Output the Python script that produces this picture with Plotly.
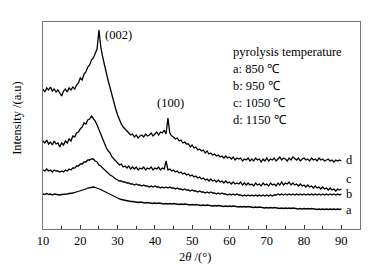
import plotly.graph_objects as go

two_theta = [10 + 0.5 * i for i in range(161)]

d_1150 = [140,137,141,139,142,138,140,137,139,136,133,138,140,137,141,139,142,140,144,146,
          151,149,155,157,162,164,169,171,176,180,199,182,172,163,156,148,141,133,126,120,
          114,109,105,102,100,97,96,94,95,92,94,91,93,94,92,95,93,94,96,93,
          95,97,94,97,96,99,95,111,96,93,92,90,91,88,89,86,87,85,85,82,
          84,81,82,79,80,78,79,76,78,75,76,74,75,73,74,72,73,71,73,71,
          72,70,72,69,71,70,71,68,70,69,71,68,70,68,71,69,70,67,70,68,
          71,68,70,69,71,68,70,72,69,71,70,68,71,69,72,70,69,71,68,70,
          71,69,70,68,71,69,70,68,71,69,70,68,69,70,68,69,67,69,68,69,68]

c_1050 = [88,86,89,85,87,84,88,85,86,82,86,84,88,86,90,88,93,92,96,97,
          100,102,106,105,109,110,113,111,108,104,99,95,90,86,81,78,76,72,70,67,
          66,64,65,62,63,61,63,60,62,60,62,59,61,60,62,59,61,60,62,59,
          61,60,62,59,61,60,68,59,60,58,59,57,58,56,57,55,56,54,55,53,
          54,52,53,51,52,50,51,49,50,48,50,48,49,47,49,47,48,46,48,46,
          47,45,47,45,46,45,47,44,46,44,46,44,45,43,46,44,45,43,46,44,
          45,43,46,44,45,43,46,44,47,44,46,45,47,44,46,44,45,43,45,43,
          44,42,44,42,43,41,43,41,42,40,42,40,41,39,41,39,40,38,40,39,40]

b_950 = [59,58,60,58,59,57,59,58,58,57,58,57,59,58,60,59,61,61,63,63,
         65,65,67,67,69,69,70,70,68,67,64,63,61,59,57,56,54,53,51,50,
         49,48,48,47,47,46,46,45,45,44,45,44,44,43,44,43,43,42,43,42,
         43,42,42,41,42,41,42,41,42,41,41,40,41,40,40,39,40,39,39,38,
         39,38,38,37,38,37,37,36,37,36,37,36,36,35,36,35,36,35,35,34,
         35,34,35,34,35,34,34,33,34,33,34,33,34,33,34,33,34,33,34,33,
         34,33,34,33,34,34,35,34,35,34,35,34,35,34,35,34,35,34,35,34,
         35,34,35,34,35,34,35,34,35,34,35,34,35,34,35,34,35,34,35,34,35]

a_850 = [35,34.5,35.5,34.5,35,34,35,34.5,34.5,34,34.5,34.5,35,35,35.5,35.5,36,36.5,37,37.5,
         38,38.5,39.5,40,41,41.5,42,42,41.5,41,40,39.5,38.5,37.5,36.5,35.5,34.5,33.5,32.5,31.5,
         31,30,29.5,29,28.5,28,28,27.5,27.5,27,27,26.5,27,26.5,26.5,26,26.5,26,26,25.5,
         26,25.5,26,25.5,25.5,25,25.5,25,25.5,25,25.5,25,25,24.5,25,24.5,25,24.5,24.5,24,
         24.5,24,24.5,24,24,23.5,24,23.5,24,23.5,23.5,23,23.5,23,23.5,23,23,22.5,23,22.5,
         23,22.5,23,22.5,22.5,22,22.5,22,22.5,22,22.5,22,22,21.5,22,21.5,22,21.5,21.5,21,
         21.5,21,21.5,21,21.5,21,21,20.5,21,20.5,21,20.5,21,20.5,21,20.5,20.5,20,20.5,20,
         20.5,20,20.5,20,20.5,20,20,19.5,20,19.5,20,19.5,20,19.5,20,19.5,20,19.5,20,19.5,20]

for s in (d_1150, c_1050, b_950, a_850):
    assert len(s) == len(two_theta), len(s)

series = [("a", a_850), ("b", b_950), ("c", c_1050), ("d", d_1150)]
legend_lines = ["pyrolysis temperature", "a: 850 ℃", "b: 950 ℃", "c: 1050 ℃", "d: 1150 ℃"]
x_ticks = [10, 20, 30, 40, 50, 60, 70, 80, 90]

FONT = "Liberation Serif"

fig = go.Figure()
for name, vals in series:
    fig.add_trace(go.Scatter(x=two_theta, y=vals, mode="lines", name=name,
                             line=dict(color="black", width=1.3), showlegend=False))

ann = []
ann.append(dict(x=30.3, y=194, text="(002)", showarrow=False, xanchor="center", yanchor="middle"))
ann.append(dict(x=44.2, y=126, text="(100)", showarrow=False, xanchor="center", yanchor="middle"))
for i, t in enumerate(legend_lines):
    ann.append(dict(x=60.3, y=177 - 17 * i, text=t, showarrow=False, xanchor="left", yanchor="middle"))
for lab, yv in [("d", 69), ("c", 50), ("b", 35), ("a", 19)]:
    ann.append(dict(x=90.6, y=yv, text=lab, showarrow=False, xanchor="left", yanchor="middle"))
ann.append(dict(xref="paper", yref="paper", x=-0.082, y=0.537, text="Intensity /(a.u)",
                textangle=-90, showarrow=False, xanchor="center", yanchor="middle"))
ann.append(dict(xref="paper", yref="paper", x=0.478, y=-0.134, text="2<i>θ</i> /(°)",
                showarrow=False, xanchor="center", yanchor="middle"))

fig.update_layout(
    width=377, height=266,
    margin=dict(l=43, r=17, t=22, b=37),
    paper_bgcolor="white", plot_bgcolor="white",
    font=dict(family=FONT, size=12.5, color="black"),
    annotations=ann,
    xaxis=dict(range=[10, 95], tickvals=x_ticks, ticks="inside", ticklen=4, tickwidth=1,
               tickcolor="#333", showgrid=False, zeroline=False, showline=True,
               linecolor="#777", linewidth=1, mirror=True,
               minor=dict(tickvals=[15, 25, 35, 45, 55, 65, 75, 85], ticks="inside",
                          ticklen=3, tickcolor="#333"),
               tickfont=dict(family=FONT, size=12.5)),
    yaxis=dict(range=[0, 207], showticklabels=False, ticks="", showgrid=False,
               zeroline=False, showline=True, linecolor="#777", linewidth=1, mirror=True),
)

fig.write_html("out.html", config={"displayModeBar": False},
               post_script="document.body.style.margin='0';document.body.style.padding='0';")
